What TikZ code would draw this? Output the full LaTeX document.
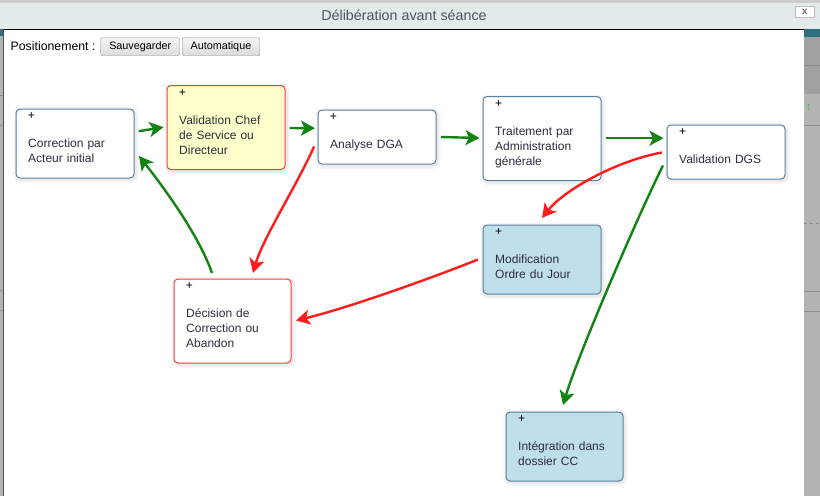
\documentclass[tikz,border=0pt]{standalone}
\usepackage{fontspec}
\setmainfont{Liberation Sans}
\usetikzlibrary{arrows.meta,calc}
\definecolor{boxblue}{RGB}{91,125,158}
\definecolor{boxred}{RGB}{255,60,60}
\definecolor{fillyel}{RGB}{255,255,204}
\definecolor{fillblue}{RGB}{191,224,235}
\definecolor{txt}{RGB}{45,45,60}
\definecolor{arrgreen}{RGB}{18,132,18}
\definecolor{arrred}{RGB}{255,28,28}
\definecolor{titlebar}{RGB}{226,234,234}
\definecolor{titletxt}{RGB}{74,85,96}
\definecolor{chrome}{RGB}{180,180,180}
\definecolor{tealbar}{RGB}{46,112,128}
\tikzset{
  box/.style={draw=boxblue, line width=1pt, rounded corners=4pt, fill=white, inner sep=0pt, anchor=north west,
    preaction={draw=black, draw opacity=0.035, line width=7pt, transform canvas={shift={(1pt,-1.5pt)}}},
    preaction={draw=black, draw opacity=0.04, line width=3.5pt, transform canvas={shift={(1pt,-1.5pt)}}}},
  redbox/.style={draw=boxred},
  yelbox/.style={fill=fillyel},
  bluebox/.style={fill=fillblue},
  plus/.style={inner sep=0pt, font=\fontsize{12}{12}\selectfont, text=black},
  lbl/.style={anchor=base west, align=left, text width=104pt, inner sep=0pt, font=\fontsize{12}{15}\selectfont, text=txt},
  flow/.style={line width=2.4pt, -{Stealth[length=14pt,width=15pt,inset=3.5pt]}},
  gflow/.style={flow, draw=arrgreen},
  rflow/.style={flow, draw=arrred},
  btn/.style={draw=black!45, rounded corners=2pt, top color=white!96!black, bottom color=black!14,
    minimum height=18pt, inner sep=0pt, font=\fontsize{10.8}{12}\selectfont, anchor=north west},
}
\newcommand\wfnode[7]{%
  \node[box,#2,minimum width=#5pt,minimum height=#6pt] (#1) at (#3,#4) {};
  \node[plus] (#1p) at ($(#1.north west)+(16,8)$) {+};
  \node[lbl] (#1t) at ($(#1.north west)+(12.5,39)$) {#7};
}
\begin{document}
\begin{tikzpicture}[x=1pt,y=-1pt]
\useasboundingbox (0,0) rectangle (820,496);
% window chrome
\fill[chrome] (0,0) rectangle (820,496);
\fill[black!20] (0,0) rectangle (820,3);
\fill[titlebar] (0,3) rectangle (820,29);
\fill[tealbar] (804,29) rectangle (820,37);
\fill[black!37] (804,37) rectangle (820,94);
\draw[black!45] (804,65) -- (820,65);
\draw[black!45] (804,125) -- (820,125);
\draw[black!45] (804,291) -- (820,291);
\draw[black!45] (804,311) -- (820,311);
\draw[black!45, dashed] (804,223) -- (820,223);
\fill[tealbar] (0,29) rectangle (3,36);
\draw[black!45] (0,95) -- (3,95);
\draw[black!45] (0,125) -- (3,125);
\draw[black!45] (0,290) -- (3,290);
\draw[black!45] (0,310) -- (3,310);
\fill[white] (3,29) rectangle (804,496);
\draw[black, line width=1pt] (3,29.5) -- (804,29.5);
\draw[black!70] (3.5,29) -- (3.5,496);
\node[text=arrgreen!80, font=\fontsize{8}{8}\selectfont, inner sep=0pt] (uparr) at (808.5,107) {$\uparrow$};
% title bar
\node[font=\fontsize{14.3}{16}\selectfont, text=titletxt, anchor=base, inner sep=0pt] (title) at (404,20) {Délibération avant séance};
\node[draw=black!25, fill=white, minimum width=19pt, minimum height=11pt, inner sep=0pt,
  font=\bfseries\fontsize{10}{10}\selectfont, text=black!55] (close) at (805,12) {x};
% toolbar
\node[anchor=base west, inner sep=0pt, font=\fontsize{12.3}{14}\selectfont] (pos) at (10.5,50.5) {Positionement :};
\node[btn, minimum width=79pt] (save) at (100.5,37.5) {Sauvegarder};
\node[btn, minimum width=77.5pt] (auto) at (182,37.5) {Automatique};
% steps
\wfnode{cor}{}{15.5}{108.5}{118}{69}{Correction par\\Acteur initial}
\wfnode{vcs}{redbox,yelbox}{166.5}{85}{118}{84}{Validation Chef\\de Service ou\\Directeur}
\wfnode{dga}{}{317.5}{109.5}{118}{54}{Analyse DGA}
\wfnode{tra}{}{482.5}{96}{118}{84}{Traitement par\\Administration\\générale}
\wfnode{dgs}{}{666.5}{124.5}{118}{54}{Validation DGS}
\wfnode{mod}{bluebox}{482.5}{224.5}{118}{69}{Modification\\Ordre du Jour}
\wfnode{dec}{redbox}{173.5}{278.5}{117}{84}{Décision de\\Correction ou\\Abandon}
\wfnode{int}{bluebox}{505.5}{411.5}{117}{69}{Intégration dans\\dossier CC}
% connectors
\draw[gflow] ($(cor.east)+(4.2,-12.3)$) -- ($(vcs.west)+(-3,-0.3)$);
\draw[gflow] ($(vcs.east)+(4,0.5)$) -- ($(dga.west)+(-2.5,-8.8)$);
\draw[gflow] ($(dga.east)+(4.5,0)$) -- ($(tra.west)+(-3,-0.5)$);
\draw[gflow] ($(tra.east)+(4,-0.3)$) -- ($(dgs.west)+(-3,-13.8)$);
\draw[gflow] ($(dec.north west)+(38.5,-5.5)$) .. controls +(-14,-40) and +(22,28) .. ($(cor.south east)+(4.5,-22.5)$);
\draw[rflow] ($(dga.west)+(-3.5,9.5)$) .. controls +(-15,35) and +(10,-35) .. ($(dec.north west)+(79.5,-5.5)$);
\draw[rflow] ($(dgs.west)+(-4.5,0.5)$) .. controls +(-45,8) and +(22,-28) .. ($(mod.north west)+(59.5,-6.5)$);
\draw[rflow] ($(mod.west)+(-4.5,0)$) .. controls +(-50,20) and +(50,-12) .. ($(dec.east)+(4.5,-0.5)$);
\draw[gflow] ($(dgs.west)+(-3.5,13.5)$) .. controls +(-25,50) and +(15,-50) .. ($(int.north west)+(57.5,-6.5)$);
\end{tikzpicture}
\end{document}
